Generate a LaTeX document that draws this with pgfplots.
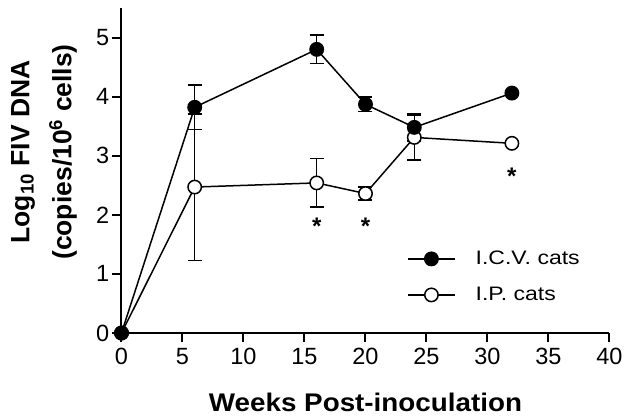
\documentclass[border=0pt]{standalone}
\usepackage{fontspec}
\setmainfont{Liberation Sans}
\newfontfamily\xlfont[FakeStretch=1.09]{Liberation Sans}
\newfontfamily\lgfont[FakeStretch=1.18]{Liberation Sans}
\usepackage{pgfplots}
\pgfplotsset{compat=1.18}
\begin{document}
\begin{tikzpicture}
\useasboundingbox (-121.5pt,-83pt) rectangle (507.5pt,333pt);
\begin{axis}[
  scale only axis, width=488pt, height=325pt,
  xmin=0, xmax=40, ymin=0, ymax=5.5,
  axis lines*=left,
  axis line style={line width=2pt},
  xtick={0,5,...,40}, ytick={0,...,5},
  tick align=outside, major tick length=9pt,
  tick style={line width=2pt, black},
  clip=false,
  /pgf/number format/assume math mode=true,
  tick label style={font=\fontsize{23.5}{26}\selectfont, inner xsep=3pt, inner ysep=6pt},
  xlabel={Weeks Post-inoculation},
  xlabel style={font=\xlfont\bfseries\fontsize{25.5}{28}\selectfont, at={(axis description cs:0.5,-0.243)}, anchor=base},
  ylabel={Log\textsubscript{10} FIV DNA\\(copies/10\textsuperscript{6} cells)},
  ylabel style={align=center, font=\bfseries\fontsize{26.5}{42}\selectfont, at={(axis description cs:-0.159,0.557)}, anchor=center},
  reverse legend,
  legend style={at={(axis cs:23.4,0.95)}, anchor=west, draw=none, fill=none, inner sep=0pt,
    font=\lgfont\fontsize{19.5}{22}\selectfont, row sep=21pt, nodes={inner sep=0pt}, cells={anchor=west},
    /tikz/every odd column/.append style={column sep=20pt}},
  legend image code/.code={\draw[mark repeat=2, mark phase=2, #1] plot coordinates {(0pt,0pt) (23.5pt,0pt) (47pt,0pt)};},
]
% I.C.V. error bars
\addplot[forget plot, draw=none, mark=none, error bars/.cd, y dir=both, y explicit,
  error bar style={line width=1.5pt}, error mark options={rotate=90, mark size=7pt, line width=1.5pt}]
  coordinates {(6,3.82) +- (0,0.38) (16,4.80) +- (0,0.24) (20,3.87) +- (0,0.12) (24,3.48) +- (0,0.23)};
% I.P. error bars
\addplot[forget plot, draw=none, mark=none, error bars/.cd, y dir=both, y explicit,
  error bar style={line width=1.5pt}, error mark options={rotate=90, mark size=7pt, line width=1.5pt}]
  coordinates {(6,2.47) +- (0,1.24) (16,2.54) +- (0,0.41) (20,2.36) +- (0,0.11) (24,3.31) +- (0,0.38)};
\addplot[line width=1.5pt, mark=*, mark size=6.7pt, mark options={fill=white, line width=1.5pt}]
  coordinates {(0,0) (6,2.47) (16,2.54) (20,2.36) (24,3.31) (32,3.21)};
\addlegendentry{I.P. cats}
\addplot[line width=1.5pt, mark=*, mark size=6.7pt, mark options={fill=black, line width=1.5pt}]
  coordinates {(0,0) (6,3.82) (16,4.80) (20,3.87) (24,3.48) (32,4.06)};
\addlegendentry{I.C.V. cats}
% significance markers
\addplot[forget plot, draw=none, mark=none, nodes near coords={\textbf{*}},
  every node near coord/.append style={anchor=base, font=\fontsize{24}{28}\selectfont, inner sep=0pt}]
  coordinates {(16,1.67) (20,1.67) (32,2.52)};
\end{axis}
\end{tikzpicture}
\end{document}
